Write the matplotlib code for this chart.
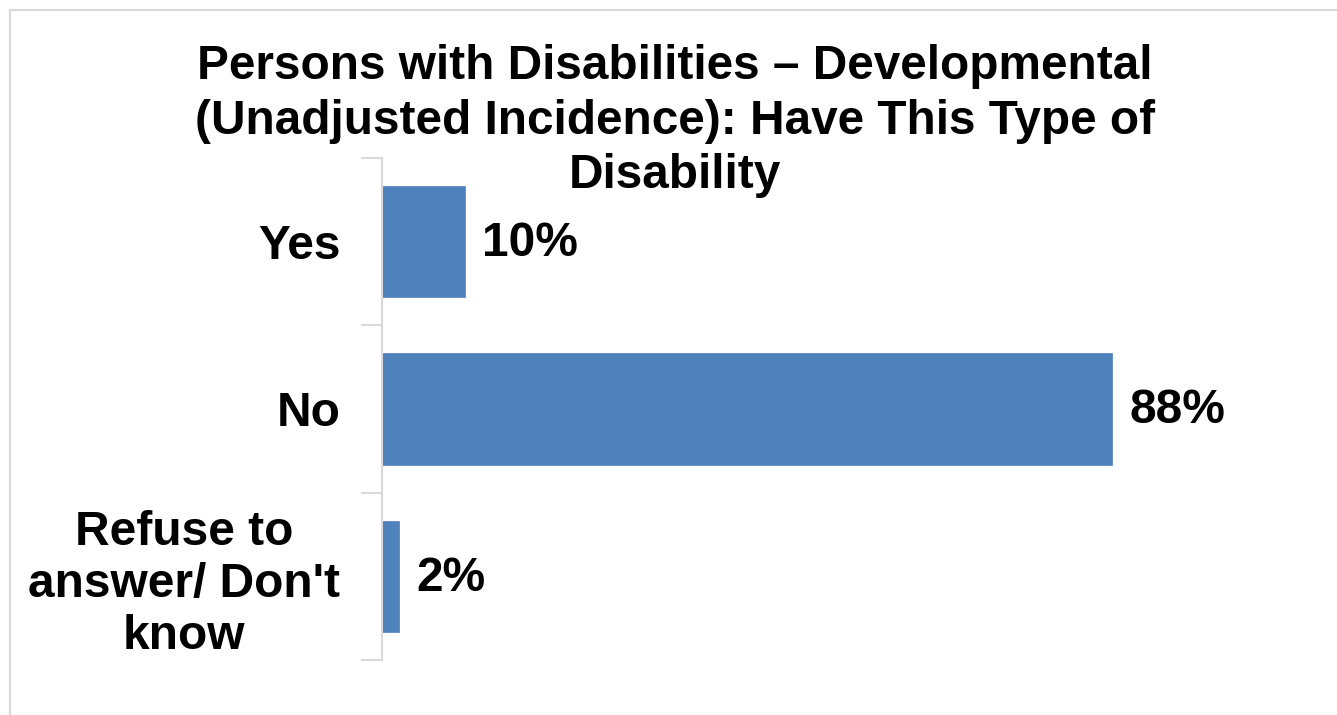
import matplotlib.pyplot as plt
from matplotlib.patches import Rectangle

plt.rcParams['font.family'] = ['Liberation Sans', 'DejaVu Sans']

# --- Data ---
categories = ["Yes", "No", "Refuse to\nanswer/ Don't\nknow"]
values = [10, 88, 2]
value_labels = ["10%", "88%", "2%"]
title = "Persons with Disabilities \u2013 Developmental\n(Unadjusted Incidence): Have This Type of\nDisability"

W, H = 1337, 715
fig = plt.figure(figsize=(W / 100, H / 100), dpi=100)

# light outer frame (chart area border)
fig.patches.append(Rectangle((9.5 / W, -0.1), 2, 1 - 9.5 / H + 0.1, transform=fig.transFigure,
                             fill=False, edgecolor='#d9d9d9', linewidth=1.5))

ax = fig.add_axes([382 / W, 1 - 660 / H, 830 / W, 502 / H])
y = list(range(len(categories)))
ax.barh(y, values, height=0.665, color='#4f81bd', edgecolor='#4f81bd', linewidth=0.5)
ax.set_ylim(2.5, -0.5)
ax.set_xlim(0, 100)

for yi, v, lab in zip(y, values, value_labels):
    ax.text(v + 2.1, yi + 0.01, lab, va='center', ha='left', fontsize=34.5, fontweight='bold')

# category boundary ticks
ax.set_yticks([-0.5, 0.5, 1.5, 2.5])
ax.set_yticklabels([])
ax.tick_params(axis='y', length=15, width=1.5, color='#d9d9d9')
ax.set_yticks(y, minor=True)
ax.set_yticklabels(categories, minor=True, fontsize=34.5, fontweight='bold', multialignment='center',
                   linespacing=1.2)
ax.tick_params(axis='y', which='minor', length=0, pad=30)

ax.set_xticks([])
for s in ['top', 'right', 'bottom']:
    ax.spines[s].set_visible(False)
ax.spines['left'].set_color('#d9d9d9')
ax.spines['left'].set_linewidth(1.5)

fig.text(675 / W, 1 - 121 / H, title, ha='center', va='center', fontsize=34.4, fontweight='bold',
         linespacing=1.27)

fig.savefig("out.png", dpi=100)
